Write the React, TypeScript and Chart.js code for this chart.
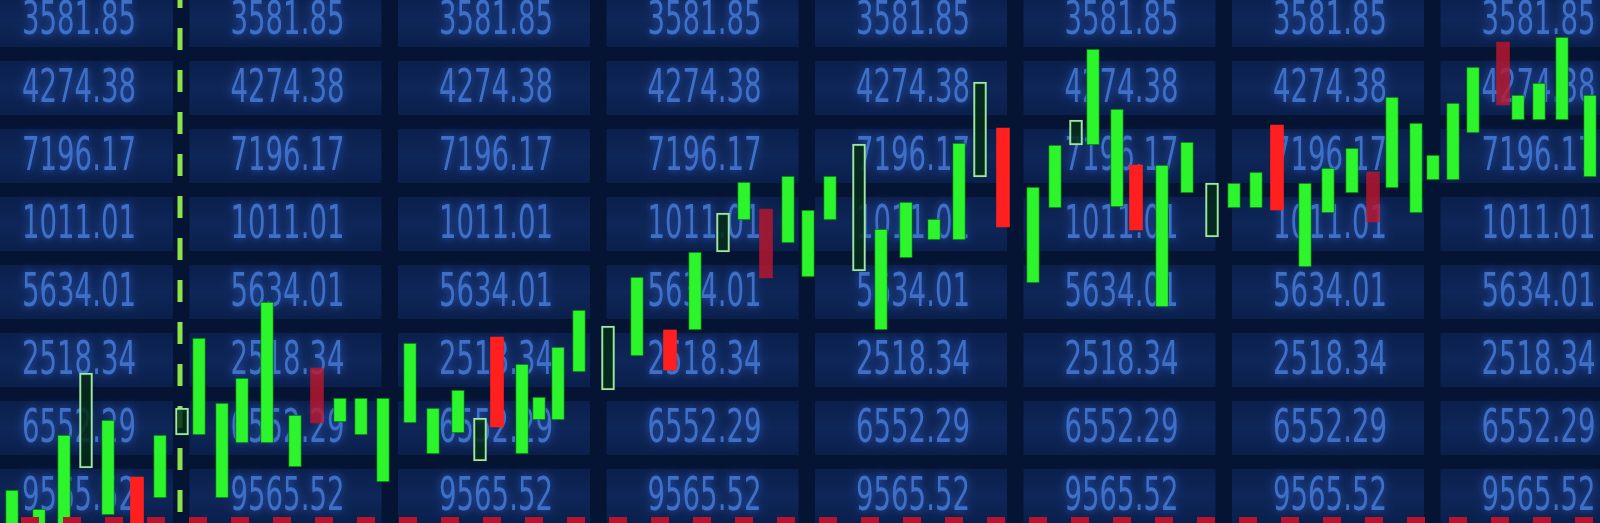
import React, { useEffect, useRef } from 'react';
import { Chart, registerables } from 'chart.js';

Chart.register(...registerables);

// numbers shown on the board behind the chart (one per row, repeated across columns)
const tileLabels = ['3581.85', '4274.38', '7196.17', '1011.01', '5634.01', '2518.34', '6552.29', '9565.52'];
const tileColumns = 8;

// candle bodies: session position, body low, body high, kind
const sessions = [
  12, 39, 64, 86, 108, 137, 160, 182, 199, 222, 242, 267, 295, 317, 340, 361, 383, 410, 433, 458,
  480, 497, 522, 539, 558, 579, 608, 637, 670, 695, 723, 744, 766, 788, 808, 830, 859, 881, 906, 934,
  959, 980, 1003, 1033, 1055, 1076, 1093, 1117, 1136, 1162, 1187, 1212, 1234, 1256, 1277, 1305, 1328, 1352, 1373, 1392,
  1416, 1433, 1453, 1473, 1503, 1518, 1539, 1562, 1590,
];
const lows = [
  -7, -7, -7, 55, 8, -7, 25, 88, 88, 25, 80, 80, 56, 100, 101, 88, 41, 100, 69, 90,
  62, 96, 69, 103, 103, 151, 133, 167, 153, 193, 271, 303, 245, 280, 246, 303, 252, 193, 265, 283,
  283, 346, 296, 240, 315, 378, 378, 316, 293, 216, 330, 286, 315, 315, 313, 256, 310, 330, 301, 335,
  310, 343, 343, 390, 418, 403, 403, 403, 346,
];
const highs = [
  33, 14, 88, 150, 103, 46, 88, 115, 185, 120, 145, 221, 108, 155, 125, 125, 125, 180, 115, 133,
  105, 186, 159, 126, 176, 213, 197, 246, 193, 271, 310, 341, 314, 347, 313, 347, 379, 294, 321, 304,
  380, 441, 395, 336, 378, 403, 474, 414, 358, 358, 381, 340, 340, 351, 398, 340, 355, 375, 351, 426,
  400, 368, 420, 456, 481, 428, 440, 486, 428,
];
const kinds = [
  'up', 'up', 'up', 'hollow', 'up', 'down', 'up', 'hollow', 'up', 'up', 'up', 'up', 'up', 'dim', 'up', 'up', 'up', 'up', 'up', 'up',
  'hollow', 'down', 'up', 'up', 'up', 'up', 'hollow', 'up', 'down', 'up', 'hollow', 'up', 'dim', 'up', 'up', 'up', 'hollow', 'up', 'up', 'up',
  'up', 'hollow', 'down', 'up', 'up', 'hollow', 'up', 'up', 'down', 'up', 'up', 'hollow', 'up', 'up', 'down', 'up', 'up', 'up', 'dim', 'up',
  'up', 'up', 'up', 'up', 'dim', 'up', 'up', 'up', 'up',
];

const markerSession = 180;
const baselinePrice = 3;

const pick = (wanted: string[]) =>
  sessions
    .map((x, i) => ({ x, y: [lows[i], highs[i]], k: kinds[i] }))
    .filter((d) => wanted.includes(d.k));

const backdrop = {
  id: 'backdrop',
  beforeDraw(chart: any) {
    const { ctx, width, height } = chart;
    ctx.save();
    ctx.fillStyle = '#061434';
    ctx.fillRect(0, 0, width, height);
    const colW = 208.5;
    const rowH = 68;
    for (let c = 0; c < tileColumns; c++) {
      for (let r = 0; r < tileLabels.length; r++) {
        const cx = 77 + c * colW;
        const cy = 20 + r * rowH;
        const g = ctx.createLinearGradient(0, cy - 27, 0, cy + 27);
        g.addColorStop(0, '#0a1f4c');
        g.addColorStop(0.5, '#0e2658');
        g.addColorStop(1, '#0a1f4c');
        ctx.fillStyle = g;
        ctx.fillRect(cx - 96, cy - 27, 192, 54);
      }
    }
    ctx.font = '47px "Liberation Sans Narrow", "DejaVu Sans Condensed", "Liberation Sans", sans-serif';
    ctx.textAlign = 'center';
    ctx.textBaseline = 'middle';
    ctx.shadowColor = 'rgba(50,105,225,0.8)';
    ctx.shadowBlur = 9;
    ctx.fillStyle = '#3f70c6';
    for (let c = 0; c < tileColumns; c++) {
      tileLabels.forEach((label, r) => {
        ctx.fillText(label, 79 + c * colW, 22 + r * rowH, 114);
      });
    }
    ctx.restore();
  },
  beforeDatasetsDraw(chart: any) {
    const { ctx, height } = chart;
    const x = chart.scales.x.getPixelForValue(markerSession);
    ctx.save();
    ctx.strokeStyle = '#8ee24c';
    ctx.lineWidth = 5;
    ctx.setLineDash([22, 20]);
    ctx.lineDashOffset = 14;
    ctx.beginPath();
    ctx.moveTo(x, 0);
    ctx.lineTo(x, height);
    ctx.stroke();
    ctx.restore();
  },
  afterDatasetsDraw(chart: any) {
    const { ctx, width } = chart;
    const y = chart.scales.y.getPixelForValue(baselinePrice);
    ctx.save();
    ctx.strokeStyle = '#b8142e';
    ctx.lineWidth = 6;
    ctx.setLineDash([18, 24]);
    ctx.lineDashOffset = 21;
    ctx.beginPath();
    ctx.moveTo(0, y);
    ctx.lineTo(width, y);
    ctx.stroke();
    ctx.restore();
  },
};

const App: React.FC = () => {
  const chartRef = useRef<HTMLCanvasElement>(null);

  useEffect(() => {
    if (!chartRef.current) return;
    const upBars = pick(['up']);
    const hollowBars = pick(['hollow']);
    const downBars = pick(['down', 'dim']);

    const chart = new Chart(chartRef.current, {
      type: 'bar',
      data: {
        datasets: [
          {
            label: 'up',
            data: upBars as any,
            backgroundColor: '#2cf52c',
            borderColor: 'rgba(0,110,20,0.9)',
            borderWidth: 1,
            borderSkipped: false,
            barThickness: 13,
            grouped: false,
          },
          {
            label: 'hollow',
            data: hollowBars as any,
            backgroundColor: 'rgba(4,42,22,0.85)',
            borderColor: '#9fe6a0',
            borderWidth: 2,
            borderSkipped: false,
            barThickness: 13,
            grouped: false,
          },
          {
            label: 'down',
            data: downBars as any,
            backgroundColor: downBars.map((d) => (d.k === 'dim' ? 'rgba(190,22,45,0.8)' : '#ff1f1f')),
            borderWidth: 0,
            borderSkipped: false,
            barThickness: 13,
            grouped: false,
          },
        ],
      },
      options: {
        animation: false,
        responsive: false,
        events: [],
        layout: { padding: 0 },
        plugins: { legend: { display: false }, tooltip: { enabled: false } },
        scales: {
          x: { type: 'linear', display: false, min: 0, max: 1600, offset: false },
          y: { type: 'linear', display: false, min: 0, max: 523 },
        },
      },
      plugins: [backdrop],
    });

    return () => {
      chart.destroy();
    };
  }, []);

  return (
    <div style={{ position: 'fixed', left: 0, top: 0, width: 1600, height: 523, background: '#061434' }}>
      <canvas ref={chartRef} width={1600} height={523} style={{ display: 'block' }} />
    </div>
  );
};

export default App;
